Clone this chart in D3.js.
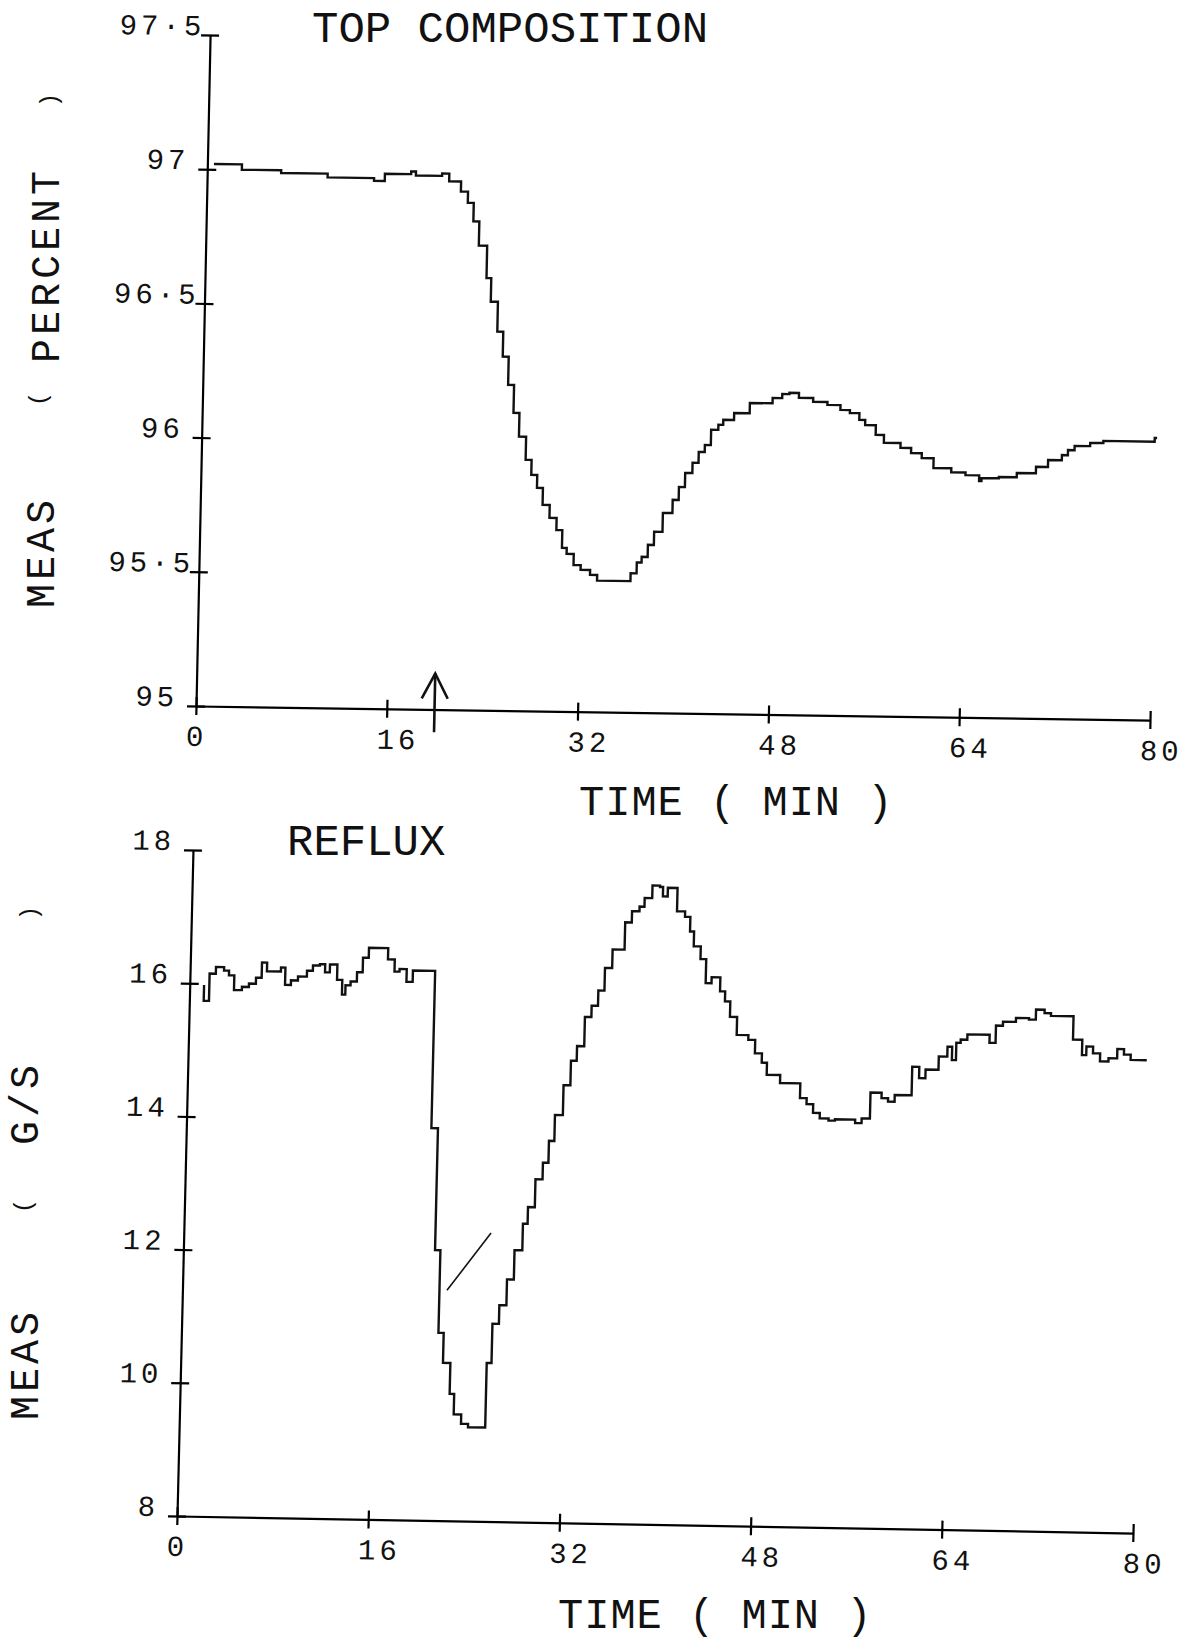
<!DOCTYPE html>
<html lang="en">
<head>
<meta charset="utf-8">
<title>Top composition and reflux</title>
<script src="https://d3js.org/d3.v7.min.js"></script>
<style>
  body { margin: 0; background: #fff; }
  text { font-family: "Liberation Mono", "DejaVu Sans Mono", monospace; fill: #111; }
  .tick-label { font-size: 29px; letter-spacing: 4px; }
  .title { font-size: 44px; }
  .axis-title { font-size: 42px; letter-spacing: 1px; }
  .y-title { font-size: 40px; letter-spacing: 4px; }
  .paren { font-size: 24px; }
</style>
</head>
<body>
<script>
// plotter readings, step-after: value holds from this time until the next one
var compTime = [0.55, 2.9, 6.2, 10.1, 14.0, 14.9, 17.1, 17.5, 19.7, 20.3,
  21.3, 21.9, 22.4, 22.9, 23.6, 24.0, 24.6, 25.1, 25.6, 26.1,
  26.6, 27.2, 27.7, 28.2, 28.7, 29.3, 29.9, 30.4, 30.8, 31.4,
  32.0, 32.8, 33.4, 36.2, 36.7, 37.1, 37.6, 38.1, 38.8, 39.6,
  40.1, 40.6, 41.2, 41.7, 42.2, 42.7, 43.3, 43.7, 44.6, 45.9,
  47.8, 48.6, 49.2, 50.0, 51.2, 52.4, 53.5, 54.3, 55.1, 55.6,
  56.5, 57.2, 58.6, 59.5, 60.4, 61.4, 62.9, 64.1, 65.25, 65.45,
  66.9, 68.4, 70.0, 71.0, 72.15, 72.65, 73.2, 74.5, 75.6, 79.9, 80.1];
var compPct = [97.02, 97.0, 96.99, 96.976, 96.966, 96.993, 97.003, 96.988, 96.997, 96.968,
  96.931, 96.889, 96.82, 96.73, 96.61, 96.522, 96.411, 96.318, 96.213, 96.109,
  96.021, 95.935, 95.879, 95.831, 95.768, 95.72, 95.675, 95.609, 95.587, 95.546,
  95.528, 95.51, 95.489, 95.518, 95.559, 95.58, 95.625, 95.674, 95.745, 95.794,
  95.842, 95.895, 95.933, 95.974, 96.0, 96.057, 96.076, 96.095, 96.121, 96.159,
  96.179, 96.194, 96.199, 96.181, 96.167, 96.156, 96.138, 96.127, 96.102, 96.083,
  96.047, 96.018, 96.0, 95.981, 95.963, 95.927, 95.912, 95.902, 95.881, 95.892,
  95.897, 95.913, 95.937, 95.963, 95.982, 96.001, 96.017, 96.029, 96.037, 96.051, 96.051];

var refluxTime = [1.1, 1.2, 1.64, 2.16, 2.84, 3.26, 3.71, 4.37, 4.95, 5.53,
  6.0, 6.43, 7.6, 7.97, 8.46, 9.04, 9.78, 10.27, 10.85, 11.29,
  11.69, 12.31, 12.75, 13.03, 13.45, 13.97, 14.44, 14.92, 16.53, 17.1,
  17.52, 18.12, 18.64, 20.5, 21.05, 21.5, 21.94, 22.56, 22.94, 23.57,
  24.16, 25.6, 26.0, 26.54, 27.13, 27.7, 28.35, 28.74, 29.31, 29.9,
  30.36, 30.81, 31.47, 32.04, 32.52, 33.12, 33.66, 34.19, 34.7, 35.3,
  36.3, 36.85, 37.47, 37.88, 38.51, 39.14, 39.4, 39.8, 40.61, 41.29,
  41.74, 42.08, 42.67, 43.15, 43.64, 44.37, 44.8, 45.25, 45.85, 46.83,
  47.41, 48.0, 48.44, 49.57, 51.27, 51.83, 52.39, 52.96, 53.7, 54.24,
  55.93, 56.47, 57.16, 58.09, 58.64, 59.19, 60.6, 61.19, 61.72, 62.8,
  63.51, 63.9, 64.24, 64.6, 65.15, 67.01, 67.52, 68.1, 69.18, 70.27,
  70.84, 71.56, 72.1, 73.99, 74.77, 75.13, 75.69, 76.29, 77.0, 77.72,
  78.28, 78.85, 80.2];
var refluxGs = [15.96, 15.74, 16.15, 16.25, 16.2, 16.13, 15.91, 15.96, 16.01, 16.1,
  16.33, 16.2, 16.26, 16.0, 16.07, 16.13, 16.22, 16.3, 16.32, 16.2,
  16.32, 16.09, 15.87, 16.01, 16.07, 16.21, 16.43, 16.58, 16.41, 16.23,
  16.27, 16.08, 16.25, 13.89, 12.06, 10.82, 10.37, 9.905, 9.6, 9.46,
  9.41, 10.38, 10.97, 11.25, 11.64, 12.08, 12.48, 12.73, 13.15, 13.4,
  13.73, 14.12, 14.57, 14.94, 15.16, 15.6, 15.77, 16.0, 16.34, 16.62,
  17.03, 17.2, 17.27, 17.4, 17.59, 17.57, 17.43, 17.56, 17.21, 17.13,
  16.91, 16.69, 16.5, 16.14, 16.23, 16.02, 15.87, 15.64, 15.37, 15.3,
  15.1, 14.96, 14.78, 14.66, 14.44, 14.35, 14.22, 14.14, 14.11, 14.13,
  14.08, 14.15, 14.54, 14.46, 14.41, 14.51, 14.94, 14.77, 14.9, 15.1,
  15.25, 15.05, 15.31, 15.36, 15.44, 15.32, 15.58, 15.64, 15.7, 15.68,
  15.83, 15.78, 15.74, 15.39, 15.16, 15.29, 15.19, 15.07, 15.12, 15.26,
  15.18, 15.1, 15.1];

var timeTicks = [0, 16, 32, 48, 64, 80];
var compTicks = [95, 95.5, 96, 96.5, 97, 97.5];
var refluxTicks = [8, 10, 12, 14, 16, 18];
var stepAt = 20;                       // arrow under the top chart (minutes)
var arrowSpan = [94.915, 95.134];      // arrow bottom / tip, percent
var penMarkT = [22.13, 25.7];          // stray pen stroke on the reflux plot
var penMarkV = [11.46, 12.33];

var W = 1192, H = 1642;
var svg = d3.select("body").append("svg")
    .attr("width", W)
    .attr("height", H);

svg.append("rect").attr("width", W).attr("height", H).attr("fill", "#fff");

function fmt(d) {
  return Number.isInteger(d) ? String(d) : String(d).replace(".", "\u00b7");
}

// one panel; the scan is a little skewed, so the plot group gets a small shear
function drawPanel(p) {
  var g = svg.append("g")
      .attr("transform", "matrix(1," + p.slope + "," + (-p.lean) + ",1," + p.ox + "," + p.oy + ")");

  var x = d3.scaleLinear().domain([0, 80]).range([0, p.w]);
  var y = d3.scaleLinear().domain(p.yDomain).range([0, -p.h]);

  var xa = g.append("g")
      .call(d3.axisBottom(x).tickValues(timeTicks).tickSize(9).tickSizeOuter(0).tickFormat(fmt))
      .attr("font-size", null).attr("font-family", null);
  xa.selectAll(".tick line").attr("y1", -9).attr("stroke-width", 2.2);
  xa.selectAll(".tick text")
      .attr("class", "tick-label")
      .attr("text-anchor", "start")
      .attr("x", -10).attr("y", 40).attr("dy", null)
      .attr("fill", "#111");

  var ya = g.append("g")
      .call(d3.axisLeft(y).tickValues(p.yTicks).tickSize(9).tickSizeOuter(0).tickFormat(fmt))
      .attr("font-size", null).attr("font-family", null);
  ya.selectAll(".tick line").attr("x1", 9).attr("stroke-width", 2.2);
  ya.selectAll(".tick text")
      .attr("class", "tick-label")
      .attr("text-anchor", "end")
      .attr("x", function(d) { return Number.isInteger(d) ? -18 : -5; })
      .attr("y", 0).attr("dy", null)
      .attr("fill", "#111");

  g.selectAll(".domain").attr("stroke-width", 2.2);

  var pts = p.times.map(function(t, i) { return [t, p.values[i]]; });
  var line = d3.line()
      .x(function(d) { return x(d[0]); })
      .y(function(d) { return y(d[1]); })
      .curve(d3.curveStepAfter);

  g.append("path")
      .datum(pts)
      .attr("d", line)
      .attr("fill", "none")
      .attr("stroke", "#111")
      .attr("stroke-width", 2.4)
      .attr("stroke-linejoin", "miter");

  return { g: g, x: x, y: y };
}

var compPanel = drawPanel({
  ox: 196, oy: 706, w: 954, h: 671, slope: 0.0147, lean: 0.021,
  yDomain: [95, 97.5], yTicks: compTicks,
  times: compTime, values: compPct
});

var refluxPanel = drawPanel({
  ox: 177, oy: 1516, w: 956, h: 666, slope: 0.0178, lean: 0.024,
  yDomain: [8, 18], yTicks: refluxTicks,
  times: refluxTime, values: refluxGs
});

// arrow marking the disturbance
var ax = compPanel.x(stepAt), tipY = compPanel.y(arrowSpan[1]);
compPanel.g.append("line")
    .attr("x1", ax).attr("x2", ax)
    .attr("y1", compPanel.y(arrowSpan[0])).attr("y2", tipY)
    .attr("stroke", "#111").attr("stroke-width", 2.6);
compPanel.g.append("path")
    .attr("d", "M" + (ax - 13) + "," + (tipY + 25) + "L" + ax + "," + tipY + "L" + (ax + 13) + "," + (tipY + 25))
    .attr("fill", "none").attr("stroke", "#111").attr("stroke-width", 2.6);

// stray pen stroke
refluxPanel.g.append("line")
    .attr("x1", refluxPanel.x(penMarkT[0])).attr("y1", refluxPanel.y(penMarkV[0]))
    .attr("x2", refluxPanel.x(penMarkT[1])).attr("y2", refluxPanel.y(penMarkV[1]))
    .attr("stroke", "#111").attr("stroke-width", 1.6);

// titles
svg.append("text").attr("class", "title").attr("x", 312).attr("y", 42).text("TOP COMPOSITION");
svg.append("text").attr("class", "title").attr("x", 287).attr("y", 855).text("REFLUX");
svg.append("text").attr("class", "axis-title").attr("x", 579).attr("y", 815).text("TIME ( MIN )");
svg.append("text").attr("class", "axis-title").attr("x", 558).attr("y", 1628).text("TIME ( MIN )");

// rotated y titles, placed piece by piece like the plotter did
var yTitleParts = [
  { s: "MEAS", x: 54, y: 552, c: "y-title" },
  { s: "(", x: 46, y: 399, c: "paren" },
  { s: "PERCENT", x: 59, y: 265, c: "y-title" },
  { s: ")", x: 57, y: 100, c: "paren" },
  { s: "MEAS", x: 38, y: 1364, c: "y-title" },
  { s: "(", x: 31, y: 1206, c: "paren" },
  { s: "G/S", x: 38, y: 1103, c: "y-title" },
  { s: ")", x: 37, y: 913, c: "paren" }
];
svg.selectAll("text.ypart")
    .data(yTitleParts)
    .enter()
    .append("text")
    .attr("class", function(d) { return "ypart " + d.c; })
    .attr("text-anchor", "middle")
    .attr("transform", function(d) { return "translate(" + d.x + "," + d.y + ") rotate(-90)"; })
    .text(function(d) { return d.s; });
</script>
</body>
</html>
